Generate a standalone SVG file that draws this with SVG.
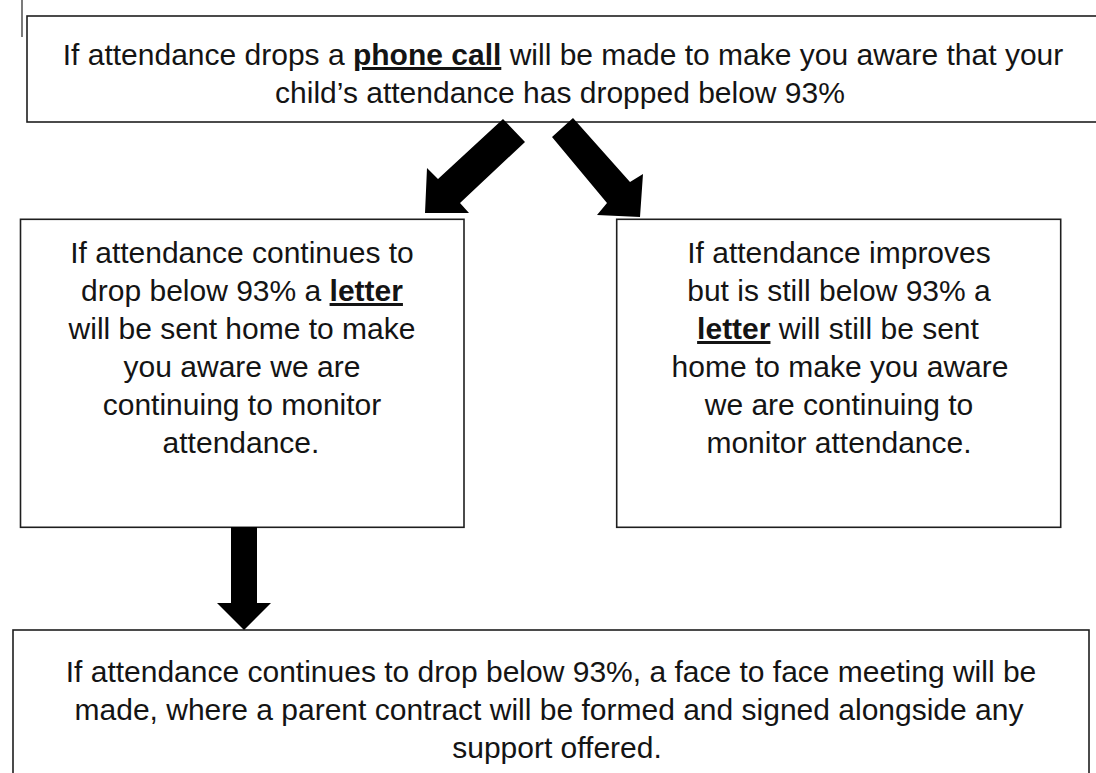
<svg xmlns="http://www.w3.org/2000/svg" width="1096" height="773" viewBox="0 0 1096 773">
<style>
.box{fill:#fff;stroke:#1e1e1e;stroke-width:1.6}
.t{font-family:"Liberation Sans",Arial,sans-serif;font-size:30px;fill:#141414;text-anchor:middle}
.b{font-weight:bold;text-decoration:underline}
.arrow{fill:#000}
</style>
<rect width="1096" height="773" fill="#fff"/>
<line x1="22" y1="0" x2="22" y2="37" stroke="#222" stroke-width="1.2"/>
<g id="node-phone">
<rect class="box" x="27" y="16" width="1080" height="106"/>
<text class="t" x="563" y="65">If attendance drops a <tspan class="b">phone call</tspan> will be made to make you aware that your</text>
<text class="t" x="560" y="103">child’s attendance has dropped below 93%</text>
</g>
<g id="node-letter-left">
<rect class="box" x="20.5" y="219.3" width="443.5" height="308"/>
<text class="t" x="242" y="263">If attendance continues to</text>
<text class="t" x="242" y="301">drop below 93% a <tspan class="b">letter</tspan></text>
<text class="t" x="242" y="339">will be sent home to make</text>
<text class="t" x="242" y="377">you aware we are</text>
<text class="t" x="242" y="415">continuing to monitor</text>
<text class="t" x="241" y="453">attendance.</text>
</g>
<g id="node-letter-right">
<rect class="box" x="616.7" y="219.3" width="444" height="308"/>
<text class="t" x="839" y="263">If attendance improves</text>
<text class="t" x="839" y="301">but is still below 93% a</text>
<text class="t" x="838" y="339"><tspan class="b">letter</tspan> will still be sent</text>
<text class="t" x="840" y="377">home to make you aware</text>
<text class="t" x="839" y="415">we are continuing to</text>
<text class="t" x="839" y="453">monitor attendance.</text>
</g>
<g id="node-meeting">
<rect class="box" x="13" y="630" width="1076" height="160"/>
<text class="t" x="551" y="682">If attendance continues to drop below 93%, a face to face meeting will be</text>
<text class="t" x="549" y="720">made, where a parent contract will be formed and signed alongside any</text>
<text class="t" x="557" y="758">support offered.</text>
</g>
<g id="connectors">
<polygon class="arrow" points="503,119 525,142 460,203 469,213 425,213 427,168 438,179"/>
<polygon class="arrow" points="573,118 630,182 643,174 640,217 597,215 607,203 552,137"/>
<polygon class="arrow" points="231,527 257,527 257,603 271,603 244,630 217,603 231,603"/>
</g>
</svg>
